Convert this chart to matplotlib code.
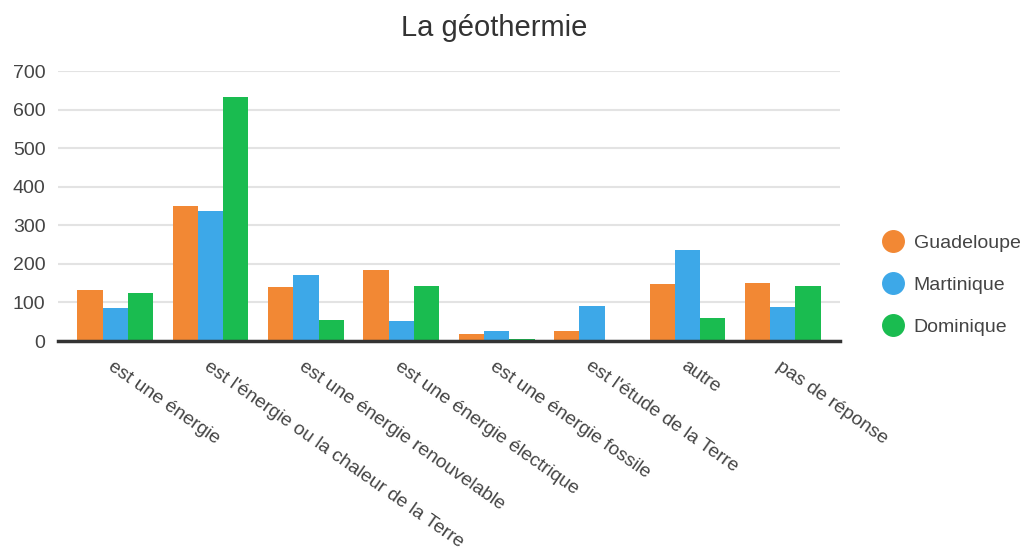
#!/usr/bin/env python3
# plot.py - La géothermie, grouped bars

import matplotlib.pyplot as plt
from matplotlib.lines import Line2D
import numpy as np

categories = [
    "est une énergie",
    "est l'énergie ou la chaleur de la Terre",
    "est une énergie renouvelable",
    "est une énergie électrique",
    "est une énergie fossile",
    "est l'étude de la Terre",
    "autre",
    "pas de réponse",
]
series_names = ["Guadeloupe", "Martinique", "Dominique"]
guadeloupe = [132, 350, 141, 183, 17, 27, 148, 150]
martinique = [86, 338, 170, 53, 26, 92, 237, 87]
dominique = [125, 633, 55, 142, 4, 0, 60, 143]
yticks = [0, 100, 200, 300, 400, 500, 600, 700]

colors = ["#f28834", "#3da8e8", "#1abc50"]


def main():
    plt.rcParams["font.family"] = ["Liberation Sans", "DejaVu Sans"]
    fig = plt.figure(figsize=(10.21, 5.47), dpi=100)
    ax = fig.add_axes([58 / 1021, 206 / 547, 782 / 1021, 270 / 547])

    x = np.arange(len(categories))
    w = 0.265
    for i, (vals, c) in enumerate(zip([guadeloupe, martinique, dominique], colors)):
        ax.bar(x + (i - 1) * w, vals, w, color=c, zorder=3)

    ax.set_xlim(-0.6, len(categories) - 0.4)
    ax.set_ylim(0, 700)
    ax.set_yticks(yticks)
    ax.tick_params(axis="y", length=0, labelsize=14, colors="#444444", pad=9)
    ax.grid(axis="y", color="#e3e3e3", linewidth=1.5, zorder=0)
    for s in ["top", "right", "left"]:
        ax.spines[s].set_visible(False)
    ax.spines["bottom"].set_color("#333333")
    ax.spines["bottom"].set_linewidth(2.5)
    ax.spines["bottom"].set_zorder(4)

    ax.set_xticks(x)
    ax.set_xticklabels(categories, rotation=-35, ha="left", va="top",
                       rotation_mode="anchor", fontsize=13.8, color="#444444")
    ax.tick_params(axis="x", length=0, pad=12)

    fig.text(0.484, 0.948, "La géothermie", ha="center", va="center",
             fontsize=21, color="#333333")

    handles = [Line2D([], [], linestyle="none", marker="o", markersize=15.5,
                      markerfacecolor=c, markeredgecolor=c) for c in colors]
    fig.legend(handles, series_names, loc="center left",
               bbox_to_anchor=(864 / 1021, 1 - 285 / 547), frameon=False,
               fontsize=14, labelcolor="#444444", handletextpad=0.45,
               labelspacing=1.25, handlelength=1.2)

    fig.savefig("out.png", dpi=100)


if __name__ == "__main__":
    main()
